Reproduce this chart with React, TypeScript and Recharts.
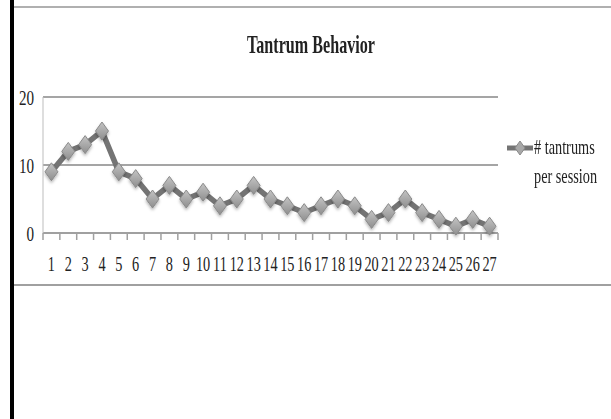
import { LineChart, Line, XAxis, YAxis, CartesianGrid } from "recharts";

const sessions = [1, 2, 3, 4, 5, 6, 7, 8, 9, 10, 11, 12, 13, 14, 15, 16, 17, 18, 19, 20, 21, 22, 23, 24, 25, 26, 27];
const tantrums = [9, 12, 13, 15, 9, 8, 5, 7, 5, 6, 4, 5, 7, 5, 4, 3, 4, 5, 4, 2, 3, 5, 3, 2, 1, 2, 1];
const yTicks = [0, 10, 20];
const seriesName = ["# tantrums", "per session"];
// tick marks sit between the sessions, like the Excel category axis
const boundaryTicks = [0.5, ...sessions.map((s) => s + 0.5)];

const data = sessions.map((s, i) => ({ session: s, tantrums: tantrums[i] }));

const FONT = "'Liberation Serif', 'DejaVu Serif', serif";
const LINE = "#747474";

const XTick = ({ x, y, payload }: any) => (
  <g transform={`translate(${x},${y}) scale(0.68,1)`}>
    <text x={0} y={0} dy={22} textAnchor="middle" fontFamily={FONT} fontSize={21} fill="#222">
      {payload.value}
    </text>
  </g>
);

const YTick = ({ x, y, payload }: any) => (
  <g transform={`translate(${x},${y}) scale(0.72,1)`}>
    <text x={0} y={0} dy={8} textAnchor="end" fontFamily={FONT} fontSize={21} fill="#222">
      {payload.value}
    </text>
  </g>
);

// draws only the short tick mark below the axis
const MarkTick = ({ x, y }: any) => (
  <line x1={x} y1={y} x2={x} y2={y + 7} stroke="#a0a0a0" strokeWidth={1.5} />
);

const Diamond = ({ cx, cy }: any) => {
  if (cx == null || cy == null) return null;
  return (
    <polygon
      points={`${cx},${cy - 9} ${cx + 6.5},${cy} ${cx},${cy + 9} ${cx - 6.5},${cy}`}
      fill="url(#diamondFill)"
      stroke="#8a8a8a"
      strokeWidth={1}
      filter="url(#soft)"
    />
  );
};

const LegendBox = () => (
  <div style={{ position: "absolute", left: 506, top: 139, display: "flex", alignItems: "flex-start" }}>
    <svg width={28} height={18}>
      <line x1={1} y1={9} x2={27} y2={9} stroke={LINE} strokeWidth={5} />
      <polygon points="14,2 19,9 14,16 9,9" fill="#a8a8a8" stroke="#8a8a8a" />
    </svg>
    <div
      style={{
        fontFamily: FONT,
        fontSize: 21,
        lineHeight: "29px",
        color: "#222",
        transform: "scaleX(0.68)",
        transformOrigin: "left top",
        whiteSpace: "nowrap",
        marginTop: -6,
      }}
    >
      {seriesName[0]}
      <br />
      {seriesName[1]}
    </div>
  </div>
);

export default function App() {
  return (
    <div style={{ position: "absolute", left: 0, top: 0, width: 611, height: 419, background: "#fff", overflow: "hidden" }}>
      <div style={{ position: "absolute", left: 10, top: 0, width: 4, height: 419, background: "#000" }} />
      <div style={{ position: "absolute", left: 14, top: 6, width: 597, height: 2, background: "#b0b0b0" }} />
      <div style={{ position: "absolute", left: 14, top: 284, width: 597, height: 2, background: "#a0a0a0" }} />
      <div
        style={{
          position: "absolute",
          left: 0,
          top: 30,
          width: 622,
          textAlign: "center",
          fontFamily: FONT,
          fontWeight: "bold",
          fontSize: 26,
          color: "#222",
          transform: "scaleX(0.62)",
          transformOrigin: "311px 0",
        }}
      >
        Tantrum Behavior
      </div>
      <div style={{ position: "absolute", left: 0, top: 0 }}>
        <LineChart width={611} height={300} data={data} margin={{ top: 97, right: 113, bottom: 27, left: 10 }}>
          <defs>
            <linearGradient id="diamondFill" x1="0" y1="0" x2="0" y2="1">
              <stop offset="0%" stopColor="#c4c4c4" />
              <stop offset="100%" stopColor="#8e8e8e" />
            </linearGradient>
            <filter id="soft" x="-50%" y="-50%" width="200%" height="200%">
              <feDropShadow dx={0} dy={2} stdDeviation={1.5} floodColor="#000" floodOpacity={0.3} />
            </filter>
          </defs>
          <CartesianGrid vertical={false} stroke="#a5a5a5" strokeWidth={2} />
          <XAxis
            xAxisId="base"
            dataKey="session"
            type="number"
            domain={[0.5, 27.5]}
            ticks={boundaryTicks}
            interval={0}
            tick={<MarkTick />}
            tickSize={0}
            tickMargin={0}
            tickLine={false}
            axisLine={{ stroke: "#a0a0a0", strokeWidth: 2 }}
            height={8}
            allowDataOverflow
          />
          <XAxis
            xAxisId="labels"
            dataKey="session"
            type="number"
            domain={[0.5, 27.5]}
            ticks={sessions}
            interval={0}
            tick={<XTick />}
            tickLine={false}
            axisLine={false}
            height={32}
            allowDataOverflow
          />
          <YAxis
            domain={[0, 20]}
            ticks={yTicks}
            tick={<YTick />}
            tickLine={false}
            tickMargin={3}
            axisLine={{ stroke: "#bdbdbd" }}
            width={33}
          />
          <Line
            xAxisId="labels"
            type="linear"
            dataKey="tantrums"
            name="# tantrums per session"
            stroke={LINE}
            strokeWidth={5.5}
            dot={<Diamond />}
            activeDot={false}
            isAnimationActive={false}
          />
        </LineChart>
      </div>
      <LegendBox />
    </div>
  );
}
